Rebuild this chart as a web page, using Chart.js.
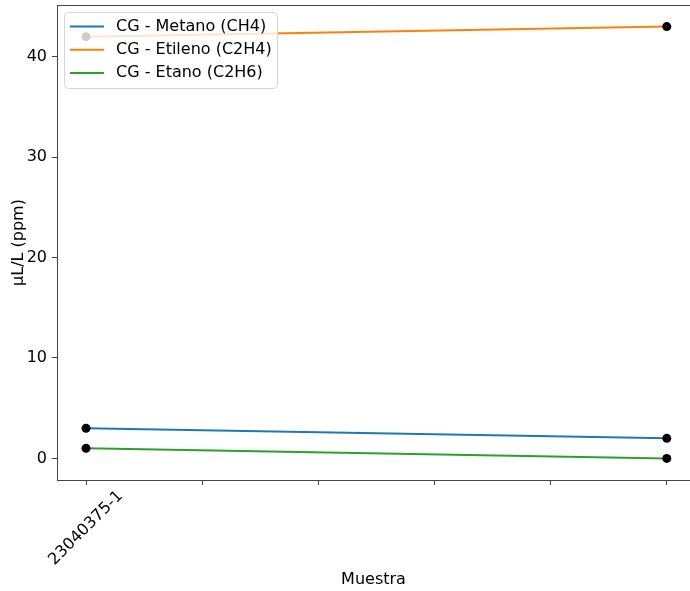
<!DOCTYPE html>
<html>
<head>
<meta charset="utf-8">
<script src="https://cdn.jsdelivr.net/npm/chart.js@4/dist/chart.umd.min.js"></script>
<style>
  html, body { margin: 0; padding: 0; background: #fff; overflow: hidden; }
  #wrap { width: 690px; height: 591px; }
  canvas { display: block; }
</style>
</head>
<body>
<div id="wrap"><canvas id="c" width="690" height="591"></canvas></div>
<script>
// Sample labels along the x axis (one slot per tick)
const muestras = ['23040375-1', '', '', '', '', ''];
// Index of each measured sample on the x axis
const posiciones = [0, 5];
// Gas concentrations in µL/L (ppm)
const metano = [3, 2];
const etileno = [42, 43];
const etano = [1, 0];
const yTicks = [0, 10, 20, 30, 40];

const seriesNames = ['CG - Metano (CH4)', 'CG - Etileno (C2H4)', 'CG - Etano (C2H6)'];
const seriesColors = ['#1f77b4', '#ff7f0e', '#2ca02c'];
const seriesValues = [metano, etileno, etano];

const FONT = '"DejaVu Sans", sans-serif';
const FS = 16;

const datasets = seriesValues.map((vals, i) => ({
  label: seriesNames[i],
  data: vals.map((v, k) => ({ x: posiciones[k], y: v })),
  borderColor: seriesColors[i],
  backgroundColor: seriesColors[i],
  borderWidth: 2,
  pointRadius: 4.5,
  pointHoverRadius: 4.5,
  pointBackgroundColor: '#000',
  pointBorderColor: '#000',
  pointBorderWidth: 0,
  tension: 0,
  clip: false
}));

function noPadding(s) {
  s.paddingLeft = 0; s.paddingRight = 0; s.paddingTop = 0; s.paddingBottom = 0;
}

// Top border of the plot, rotated sample labels centred on their ticks,
// and a boxed legend drawn inside the plot
const framePlugin = {
  id: 'frameAndLegend',
  afterDraw(chart) {
    const ctx = chart.ctx;
    const a = chart.chartArea;
    ctx.save();
    ctx.strokeStyle = '#444';
    ctx.lineWidth = 1;
    ctx.beginPath();
    ctx.moveTo(Math.round(a.left), Math.round(a.top) + 0.5);
    ctx.lineTo(chart.width, Math.round(a.top) + 0.5);
    ctx.stroke();

    // x tick labels, rotated 45° and centred under the tick
    const xs = chart.scales.x;
    ctx.font = FS + 'px ' + FONT;
    ctx.fillStyle = '#000';
    ctx.textAlign = 'center';
    ctx.textBaseline = 'middle';
    muestras.forEach((lab, i) => {
      if (!lab) return;
      const w = ctx.measureText(lab).width;
      const box = (w + FS) * Math.SQRT1_2;
      const cx = xs.getPixelForValue(i);
      const cy = a.bottom + 8 + box / 2;
      ctx.save();
      ctx.translate(cx, cy);
      ctx.rotate(-Math.PI / 4);
      ctx.fillText(lab, 0, 0);
      ctx.restore();
    });

    // legend box
    const bx = 64.5, by = 12.5, bw = 213, bh = 76, r = 4;
    ctx.beginPath();
    ctx.moveTo(bx + r, by);
    ctx.lineTo(bx + bw - r, by);
    ctx.quadraticCurveTo(bx + bw, by, bx + bw, by + r);
    ctx.lineTo(bx + bw, by + bh - r);
    ctx.quadraticCurveTo(bx + bw, by + bh, bx + bw - r, by + bh);
    ctx.lineTo(bx + r, by + bh);
    ctx.quadraticCurveTo(bx, by + bh, bx, by + bh - r);
    ctx.lineTo(bx, by + r);
    ctx.quadraticCurveTo(bx, by, bx + r, by);
    ctx.closePath();
    ctx.fillStyle = 'rgba(255,255,255,0.8)';
    ctx.fill();
    ctx.strokeStyle = '#d6d6d6';
    ctx.lineWidth = 1;
    ctx.stroke();

    ctx.textAlign = 'left';
    chart.data.datasets.forEach((ds, i) => {
      const y = 26.5 + i * 23.3;
      ctx.strokeStyle = ds.borderColor;
      ctx.lineWidth = 2;
      ctx.beginPath();
      ctx.moveTo(70, y);
      ctx.lineTo(104, y);
      ctx.stroke();
      ctx.fillStyle = '#000';
      ctx.fillText(ds.label, 116, y);
    });
    ctx.restore();
  }
};

new Chart(document.getElementById('c'), {
  type: 'line',
  data: { datasets },
  plugins: [framePlugin],
  options: {
    responsive: false,
    animation: false,
    layout: { autoPadding: false, padding: { top: 5, right: 0, left: 0, bottom: 0 } },
    plugins: { legend: { display: false }, tooltip: { enabled: false } },
    scales: {
      x: {
        type: 'linear',
        min: -0.25,
        max: 5.2,
        afterBuildTicks(s) { s.ticks = muestras.map((_, i) => ({ value: i })); },
        afterFit(s) { s.height = 111; noPadding(s); },
        ticks: {
          autoSkip: false,
          maxRotation: 0,
          callback: () => ''
        },
        grid: { drawOnChartArea: false, drawTicks: true, tickLength: 5, color: '#444' },
        border: { display: true, color: '#444' },
        title: {
          display: true,
          text: 'Muestra',
          color: '#000',
          font: { family: FONT, size: FS },
          padding: { top: 0, bottom: 1.5 }
        }
      },
      y: {
        type: 'linear',
        min: -2.15,
        max: 45.15,
        afterBuildTicks(s) { s.ticks = yTicks.map(v => ({ value: v })); },
        afterFit(s) { s.width = 57; noPadding(s); },
        ticks: {
          color: '#000',
          font: { family: FONT, size: FS },
          padding: 5
        },
        grid: { drawOnChartArea: false, drawTicks: true, tickLength: 5, color: '#444' },
        border: { display: true, color: '#444' },
        title: {
          display: true,
          text: 'µL/L (ppm)',
          color: '#000',
          font: { family: FONT, size: FS },
          padding: { top: 9, bottom: 0 }
        }
      }
    }
  }
});
</script>
</body>
</html>
